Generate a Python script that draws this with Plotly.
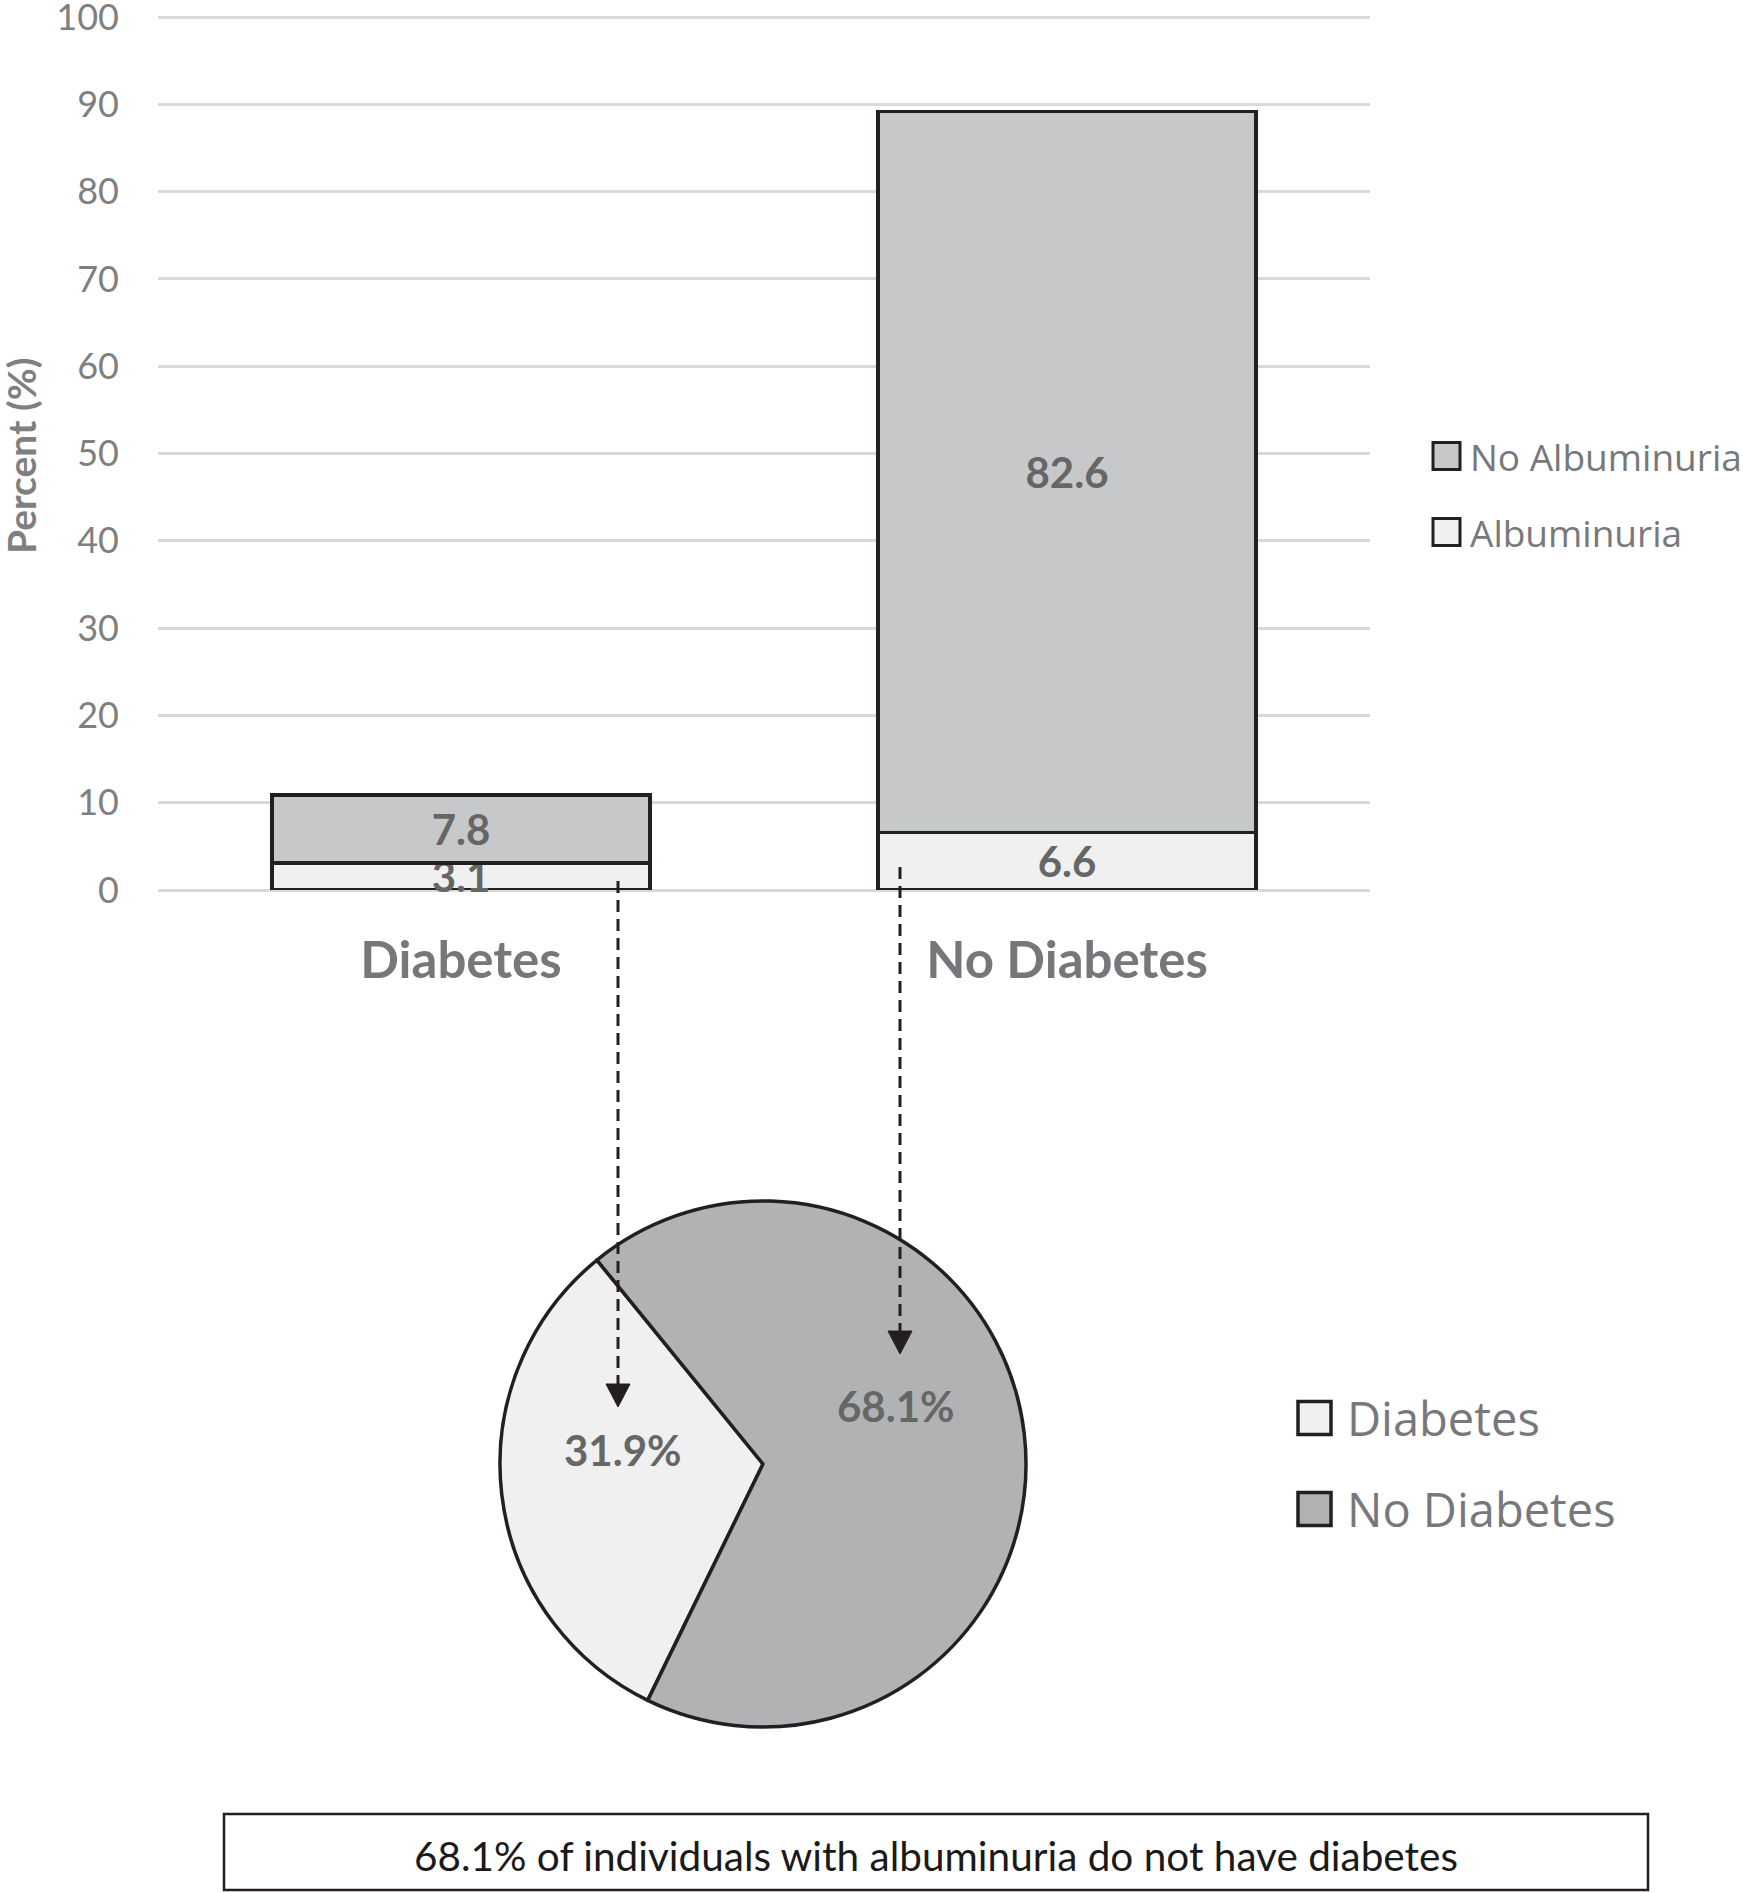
import plotly.graph_objects as go

W, H = 1743, 1893

# ---------------- data ----------------
categories = ["Diabetes", "No Diabetes"]
albuminuria = [3.1, 6.6]
no_albuminuria = [7.8, 82.6]
y_tick_values = [0, 10, 20, 30, 40, 50, 60, 70, 80, 90, 100]
bar_legend_names = ["No Albuminuria", "Albuminuria"]

pie_labels = ["Diabetes", "No Diabetes"]
pie_values = [31.9, 68.1]

y_title = "Percent (%)"
caption = "68.1% of individuals with albuminuria do not have diabetes"

# ---------------- style ----------------
OUTLINE = "#231f20"
C_ALB = "#f0f0f0"
C_NOALB = "#c7c8ca"
C_PIE_DIAB = "#f0f0f0"
C_PIE_NODIAB = "#b1b2b4"
GRID = "#d9d9d9"
LABEL_GRAY = "#666666"
AXIS_GRAY = "#7f7f7f"
LEG_GRAY = "#77787b"


def fx(p):
    return p / W


def fy(p):
    return 1 - p / H


val_font = dict(family="Lato", size=42, color=LABEL_GRAY, weight="bold")

fig = go.Figure()

fig.add_trace(go.Bar(
    x=categories, y=albuminuria, name="Albuminuria",
    marker=dict(color=C_ALB, line=dict(color=OUTLINE, width=3.5)),
    text=[f"{v:.1f}" for v in albuminuria], textposition="inside",
    insidetextanchor="middle", textangle=0, constraintext="none",
    textfont=val_font, cliponaxis=False, showlegend=False, hoverinfo="skip",
))
fig.add_trace(go.Bar(
    x=categories, y=no_albuminuria, name="No Albuminuria",
    marker=dict(color=C_NOALB, line=dict(color=OUTLINE, width=3.5)),
    text=[f"{v:.1f}" for v in no_albuminuria], textposition="inside",
    insidetextanchor="middle", textangle=0, constraintext="none",
    textfont=val_font, cliponaxis=False, showlegend=False, hoverinfo="skip",
))

PIE_CX, PIE_CY, PIE_R = 763, 1464, 263
fig.add_trace(go.Pie(
    labels=pie_labels, values=pie_values, sort=False,
    direction="clockwise", rotation=-154,
    marker=dict(colors=[C_PIE_DIAB, C_PIE_NODIAB], line=dict(color=OUTLINE, width=3.5)),
    textinfo="none",
    domain=dict(x=[fx(PIE_CX - PIE_R), fx(PIE_CX + PIE_R)],
                y=[fy(PIE_CY + PIE_R), fy(PIE_CY - PIE_R)]),
    showlegend=False, hoverinfo="skip",
))

shapes = []
annotations = []

# pie value labels (placed as in the original figure)
for v, (lx, ly) in zip(pie_values, [(622, 1450), (896, 1406)]):
    annotations.append(dict(text=f"{v:.1f}%", xref="paper", yref="paper",
                            x=fx(lx), y=fy(ly), xanchor="center", yanchor="middle",
                            showarrow=False, font=val_font))

# y axis title
annotations.append(dict(text=y_title, xref="paper", yref="paper", x=fx(21), y=fy(456),
                        xanchor="center", yanchor="middle", textangle=-90, showarrow=False,
                        font=dict(family="Lato", size=39, color=AXIS_GRAY, weight="bold")))

# legend for bars
bar_colors = {"No Albuminuria": C_NOALB, "Albuminuria": C_ALB}
for name, yc in zip(bar_legend_names, [456, 532]):
    s = 27
    shapes.append(dict(type="rect", xref="paper", yref="paper",
                       x0=fx(1433), x1=fx(1433 + s), y0=fy(yc + s / 2), y1=fy(yc - s / 2),
                       fillcolor=bar_colors[name], line=dict(color=OUTLINE, width=3)))
    annotations.append(dict(text=name, xref="paper", yref="paper", x=fx(1468), y=fy(yc),
                            xanchor="left", yanchor="middle", showarrow=False,
                            font=dict(family="Open Sans", size=37, color=LEG_GRAY)))

# legend for pie
pie_colors = [C_PIE_DIAB, C_PIE_NODIAB]
for name, col, yc in zip(pie_labels, pie_colors, [1418, 1509]):
    s = 33
    shapes.append(dict(type="rect", xref="paper", yref="paper",
                       x0=fx(1298), x1=fx(1298 + s), y0=fy(yc + s / 2), y1=fy(yc - s / 2),
                       fillcolor=col, line=dict(color=OUTLINE, width=3.5)))
    annotations.append(dict(text=name, xref="paper", yref="paper", x=fx(1345), y=fy(yc),
                            xanchor="left", yanchor="middle", showarrow=False,
                            font=dict(family="Open Sans", size=47, color=LEG_GRAY)))

# dashed arrows
for xa, y0, ytip in [(618, 881, 1407), (900, 867, 1354)]:
    head = 23
    shapes.append(dict(type="line", xref="paper", yref="paper",
                       x0=fx(xa), x1=fx(xa), y0=fy(y0), y1=fy(ytip - head + 2),
                       line=dict(color=OUTLINE, width=3, dash="12px,7px")))
    path = (f"M {fx(xa - 12)} {fy(ytip - head)} L {fx(xa + 12)} {fy(ytip - head)} "
            f"L {fx(xa)} {fy(ytip)} Z")
    shapes.append(dict(type="path", xref="paper", yref="paper", path=path,
                       fillcolor=OUTLINE, line=dict(color=OUTLINE, width=1)))

# caption box
shapes.append(dict(type="rect", xref="paper", yref="paper",
                   x0=fx(224), x1=fx(1648), y0=fy(1890), y1=fy(1814),
                   fillcolor="white", line=dict(color=OUTLINE, width=2.5)))
annotations.append(dict(text=caption, xref="paper", yref="paper",
                        x=fx(936), y=fy(1855), xanchor="center", yanchor="middle",
                        showarrow=False,
                        font=dict(family="Lato", size=40.5, color="#1a1a1a")))

fig.update_layout(
    width=W, height=H,
    margin=dict(l=0, r=0, t=0, b=0, autoexpand=False),
    paper_bgcolor="white", plot_bgcolor="white",
    barmode="stack", bargap=0.376,
    showlegend=False,
    shapes=shapes, annotations=annotations,
    xaxis=dict(domain=[fx(158), fx(1370)], showgrid=False, zeroline=False,
               showline=False, ticks="", ticklabelstandoff=36, automargin=False,
               tickfont=dict(family="Lato", size=51, color="#76777a", weight="bold")),
    yaxis=dict(domain=[fy(890), fy(14.4)], range=[0, 100.3], tickvals=y_tick_values,
               showgrid=True, gridcolor=GRID, gridwidth=3,
               zeroline=True, zerolinecolor=GRID, zerolinewidth=3,
               showline=False, ticks="", ticklabelstandoff=38, automargin=False,
               ticklabeloverflow="allow",
               tickfont=dict(family="Lato", size=36, color=AXIS_GRAY)),
)

fig.write_html("out.html")
